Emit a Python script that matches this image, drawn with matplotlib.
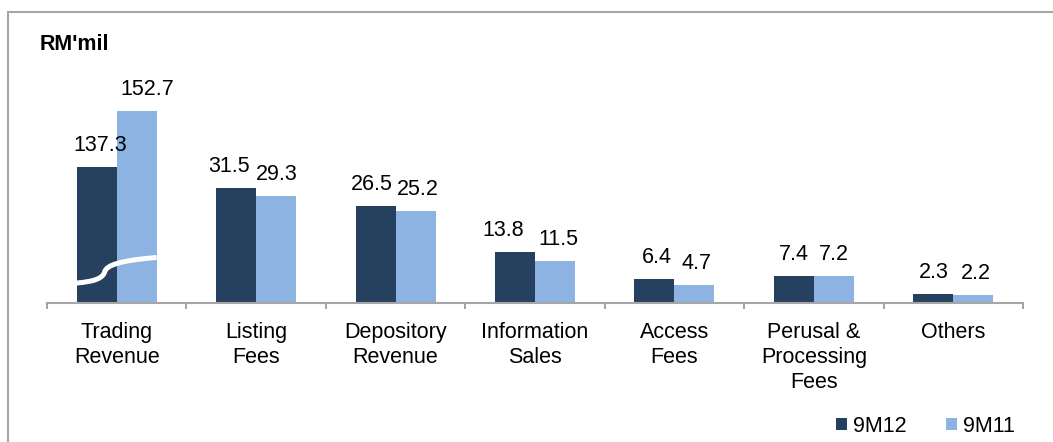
import matplotlib
matplotlib.use("Agg")
import matplotlib.pyplot as plt
from matplotlib.patches import Rectangle, Patch, PathPatch
from matplotlib.path import Path
import numpy as np

plt.rcParams['font.family'] = ['Liberation Sans', 'DejaVu Sans']

categories = ["Trading\nRevenue", "Listing\nFees", "Depository\nRevenue",
              "Information\nSales", "Access\nFees", "Perusal &\nProcessing\nFees", "Others"]
values_9m12 = [137.3, 31.5, 26.5, 13.8, 6.4, 7.4, 2.3]
values_9m11 = [152.7, 29.3, 25.2, 11.5, 4.7, 7.2, 2.2]
series_names = ["9M12", "9M11"]
unit_label = "RM'mil"

# axis break applied to the first category (values shown above the break)
break_offset = 100.0
broken = [True, False, False, False, False, False, False]

c_dark = "#26405F"
c_light = "#8DB3E2"
grey = "#A6A6A6"
FS = 15.5

W, H = 1053, 442
fig = plt.figure(figsize=(W / 100, H / 100), dpi=100)
ax_l, ax_r, ax_b, ax_t = 47, 1023, 302.5, 40
ax = fig.add_axes([ax_l / W, 1 - ax_b / H, (ax_r - ax_l) / W, (ax_b - ax_t) / H])
px_per_unit = 3.63
ax.set_ylim(0, (ax_b - ax_t) / px_per_unit)
n = len(categories)
ax.set_xlim(-0.5, n - 0.5)

x = np.arange(n)
bw = 0.287
h12 = [v - break_offset if b else v for v, b in zip(values_9m12, broken)]
h11 = [v - break_offset if b else v for v, b in zip(values_9m11, broken)]
ax.bar(x - bw / 2, h12, bw, color=c_dark, zorder=2)
ax.bar(x + bw / 2, h11, bw, color=c_light, zorder=2)

# label nudges (pixels) to mimic the original placement
nudge12 = [3, -7, -4, -12, 2, 0, 1]
nudge11 = [11, 1, 2, 3, 2, 0, 3]
for i in range(n):
    ax.annotate(f"{values_9m12[i]:.1f}", (x[i] - bw / 2, h12[i]), xytext=(nudge12[i], 11),
                textcoords="offset pixels", ha="center", va="bottom", fontsize=FS, color="black")
    ax.annotate(f"{values_9m11[i]:.1f}", (x[i] + bw / 2, h11[i]), xytext=(nudge11[i], 11),
                textcoords="offset pixels", ha="center", va="bottom", fontsize=FS, color="black")

# break curve (white S-line across first group)
for i in range(n):
    if broken[i]:
        verts = [(-0.287, 5.37), (-0.16, 5.8), (-0.10, 6.6), (-0.086, 8.5),
                 (-0.074, 10.2), (0.02, 11.6), (0.287, 12.4)]
        verts = [(vx + x[i], vy) for vx, vy in verts]
        codes = [Path.MOVETO] + [Path.CURVE4] * 6
        ax.add_patch(PathPatch(Path(verts, codes), fill=False, edgecolor="white",
                               linewidth=3.6, capstyle="butt", zorder=3))

for s in ["left", "right", "top"]:
    ax.spines[s].set_visible(False)
ax.spines["bottom"].set_color(grey)
ax.spines["bottom"].set_linewidth(1.5)
ax.set_yticks([])
ax.set_xticks(np.arange(n + 1) - 0.5)
ax.set_xticklabels([])
ax.tick_params(axis="x", which="major", length=4.5, width=1.5, color=grey, direction="out")
ax.set_xticks(x, minor=True)
ax.set_xticklabels(categories, minor=True, fontsize=FS, linespacing=1.25)
ax.tick_params(axis="x", which="minor", length=0, pad=14)

fig.text(40 / W, 1 - 45 / H, unit_label, fontsize=FS, fontweight="bold", va="center", ha="left")

handles = [Patch(facecolor=c_dark), Patch(facecolor=c_light)]
fig.legend(handles, series_names, loc="center left", bbox_to_anchor=(836 / W, 1 - 426 / H),
           ncol=2, frameon=False, fontsize=FS, handlelength=0.52, handleheight=0.48,
           handletextpad=0.25, columnspacing=1.85, borderpad=0, borderaxespad=0)

fig.patches.append(Rectangle((8 / W, -0.1), 1.2, 1.1 - 12.5 / H, transform=fig.transFigure,
                             fill=False, edgecolor=grey, linewidth=1.5, zorder=0))

fig.savefig("out.png", dpi=100)
